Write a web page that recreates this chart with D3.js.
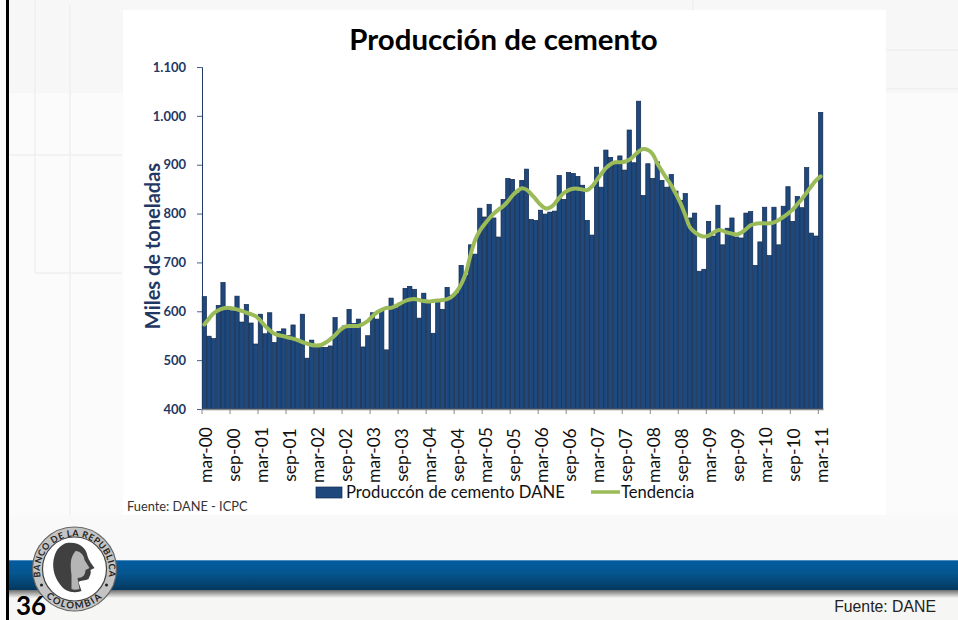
<!DOCTYPE html>
<html>
<head>
<meta charset="utf-8">
<script src="https://cdn.jsdelivr.net/npm/d3@7/dist/d3.min.js"></script>
<style>
html,body{margin:0;padding:0;background:#fbfbfb;overflow:hidden}
svg{display:block}
text{font-family:Lato,"Open Sans",sans-serif}
</style>
</head>
<body>
<svg id="c" width="958" height="620"></svg>
<script>
const monthNames = ["mar","abr","may","jun","jul","ago","sep","oct","nov","dic","ene","feb"];
const produccion = [
630,549,544,612,659,610,601,631,578,614,576,533,
594,554,597,536,559,564,550,572,538,594,504,541,
527,526,526,529,587,561,570,604,575,584,527,550,
597,584,602,521,627,607,617,647,651,645,586,637,
620,555,622,604,649,633,637,694,674,736,717,811,
793,819,791,752,829,872,870,842,868,891,788,786,
807,799,803,805,878,829,884,882,876,858,786,756,
895,854,930,915,902,918,889,971,904,1030,837,902,
872,906,868,854,880,846,827,841,791,801,682,686,
784,754,817,736,770,791,752,750,801,804,694,742,
813,714,813,736,815,855,784,835,812,894,760,754,
1007];
const tendencia = [
573,585,596,602,606,607,606,604,601,597,594,590,
581,570,561,554,551,549,546,544,541,537,534,531,
530,531,536,543,551,561,568,570,570,570,574,580,
590,598,603,607,607,611,616,621,624,625,623,621,
620,621,622,623,625,630,640,655,678,715,746,765,
778,790,800,808,815,825,837,846,852,849,840,829,
818,811,812,820,832,842,848,851,851,849,848,855,
868,881,893,901,905,905,906,910,918,927,932,930,
922,903,887,872,858,840,821,797,772,762,756,753,
755,761,766,765,761,759,757,761,768,776,779,780,
780,780,782,787,793,800,808,819,830,843,856,868,
876];
const yTicks = [400,500,600,700,800,900,1000,1100];
const xTickLabels = ["mar-00","sep-00","mar-01","sep-01","mar-02","sep-02","mar-03","sep-03","mar-04","sep-04","mar-05","sep-05","mar-06","sep-06","mar-07","sep-07","mar-08","sep-08","mar-09","sep-09","mar-10","sep-10","mar-11"];
const months = produccion.map((_,i)=>{
  const m = monthNames[i%12];
  const yr = 2000 + Math.floor((i+2)/12);
  return m+"-"+String(yr%100).padStart(2,"0");
});

const navy="#1F3864", bar="#1F497D", green="#9BBB59";
const svg=d3.select("#c");

// slide background
const bg=svg.append("g");
bg.append("rect").attr("width",958).attr("height",620).attr("fill","#fbfbfb");
bg.append("rect").attr("x",8).attr("width",950).attr("height",93).attr("fill","#f7f7f7");
[[35,0,35,273],[70,5,70,620],[693,0,693,10],[35,273,122,273],[8,155,122,155],[886,50,958,50],[886,89,958,89]].forEach(l=>{
  bg.append("line").attr("x1",l[0]).attr("y1",l[1]).attr("x2",l[2]).attr("y2",l[3]).attr("stroke","#efefef").attr("stroke-width",1.5);
});
bg.append("rect").attr("x",8).attr("y",515).attr("width",950).attr("height",45).attr("fill","#f9f9f9");
bg.append("rect").attr("x",8).attr("y",590).attr("width",950).attr("height",30).attr("fill","#f6f6f4");
const defs=svg.append("defs");
const g1=defs.append("linearGradient").attr("id","band").attr("x1",0).attr("y1",0).attr("x2",0).attr("y2",1);
g1.append("stop").attr("offset","0").attr("stop-color","#7fb0d6");
g1.append("stop").attr("offset","0.04").attr("stop-color","#045c9e");
g1.append("stop").attr("offset","0.45").attr("stop-color","#05558f");
g1.append("stop").attr("offset","1").attr("stop-color","#03385f");
const g2=defs.append("linearGradient").attr("id","shade").attr("x1",0).attr("y1",0).attr("x2",0).attr("y2",1);
g2.append("stop").attr("offset","0").attr("stop-color","#6e6e6e");
g2.append("stop").attr("offset","1").attr("stop-color","#f6f6f4");
bg.append("rect").attr("x",8).attr("y",560).attr("width",950).attr("height",30).attr("fill","url(#band)");
bg.append("rect").attr("x",8).attr("y",590).attr("width",950).attr("height",8).attr("fill","url(#shade)");
bg.append("rect").attr("x",6).attr("y",0).attr("width",3).attr("height",620).attr("fill","#000");
bg.append("rect").attr("x",123).attr("y",10).attr("width",763).attr("height",505).attr("fill","#fff");

// scales
const x=d3.scaleBand().domain(months).range([202,823]).paddingInner(0).paddingOuter(0);
const y=d3.scaleLinear().domain([400,1100]).range([409,67]);

// bars
svg.append("g").selectAll("rect").data(produccion).join("rect")
  .attr("x",(d,i)=>x(months[i])+0.2)
  .attr("y",d=>y(d))
  .attr("width",x.bandwidth()-0.4)
  .attr("height",d=>y(400)-y(d))
  .attr("fill",bar).attr("stroke","#10294d").attr("stroke-width",0.7);

// y axis
const yAxis=svg.append("g").attr("transform","translate(202,0)")
  .call(d3.axisLeft(y).tickValues(yTicks).tickSize(5).tickPadding(11)
    .tickFormat(d=>d3.format(",")(d).replace(",",".")));
yAxis.selectAll("text").attr("font-size",13).attr("font-weight",700).attr("fill",navy).style("font-family","Lato");
yAxis.selectAll("line").attr("stroke","#4a5f85");
yAxis.select(".domain").attr("stroke",navy).attr("stroke-width",1);

// x axis
const xAxis=svg.append("g").attr("transform","translate(0,409)")
  .call(d3.axisBottom(x).tickValues(months.filter((m,i)=>i%6===0)).tickSize(5).tickSizeOuter(0)
    .tickFormat((d,i)=>xTickLabels[i]));
xAxis.select(".domain").attr("stroke","#888").attr("stroke-width",1.5);
xAxis.selectAll("line").attr("stroke","#888").attr("transform",`translate(${-x.bandwidth()/2},0)`);
xAxis.selectAll("text")
  .attr("transform","rotate(-90)")
  .attr("x",-46).attr("y",1.5).attr("dy","0.35em")
  .attr("text-anchor","middle")
  .attr("font-size",17.5).attr("fill","#111").style("font-family","Lato");

// trend
const line=d3.line().x((d,i)=>x(months[i])+x.bandwidth()/2).y(d=>y(d)).curve(d3.curveCatmullRom);
svg.append("path").datum(tendencia).attr("d",line).attr("fill","none")
  .attr("stroke",green).attr("stroke-width",4).attr("stroke-linecap","round");

// titles
svg.append("text").attr("x",503.5).attr("y",50).attr("text-anchor","middle")
  .attr("font-size",29.4).attr("font-weight",700).attr("fill","#000").text("Producción de cemento");
svg.append("text").attr("transform","translate(160,246) rotate(-90)").attr("text-anchor","middle")
  .attr("font-size",20).attr("font-weight",700).attr("fill",navy).text("Miles de toneladas");

// legend
svg.append("rect").attr("x",316).attr("y",487).attr("width",26).attr("height",11).attr("fill",bar).attr("stroke","#10294d").attr("stroke-width",0.7);
svg.append("text").attr("x",346).attr("y",498).attr("font-size",16.7).attr("fill","#111").text("Produccón de cemento DANE");
svg.append("line").attr("x1",591).attr("x2",620).attr("y1",492).attr("y2",492).attr("stroke",green).attr("stroke-width",3.5);
svg.append("text").attr("x",621).attr("y",498).attr("font-size",16.6).attr("fill","#111").text("Tendencia");
svg.append("text").attr("x",127).attr("y",511).attr("font-size",12.8).attr("fill","#333").text("Fuente: DANE - ICPC");

// seal
const seal=svg.append("g").attr("transform","translate(74.5,569)");
seal.append("circle").attr("r",42).attr("fill","#c4c4c4").attr("stroke","#666").attr("stroke-width",1.2);
seal.append("circle").attr("r",32).attr("fill","#fff").attr("stroke","#444").attr("stroke-width",1.2);
seal.append("path").attr("d","M-8,-26 C4,-28 12,-21 13,-13 C14,-9 18,-4 20,-1 L16,1 C17,5 15,7 14,10 C11,12 6,11 4,13 L7,22 C-2,25 -10,22 -14,16 C-21,8 -23,-4 -20,-13 C-18,-20 -14,-24 -8,-26 Z").attr("fill","#404040");
seal.append("path").attr("d","M1,-18 C6,-18 10,-13 10,-9 L15,-1 L11,1 C11,6 8,9 3,9 L5,20 C2,21 -1,21 -3,20 L-3,6 C-4,-3 -5,-11 1,-18 Z").attr("fill","#b5b5b5");
defs.append("path").attr("id","arcTop").attr("d","M-33,12 A34.5,34.5 0 1 1 33,12");
defs.append("path").attr("id","arcBot").attr("d","M-31,25 A40,40 0 0 0 31,25");
seal.append("text").attr("font-size",9).attr("font-weight",700).attr("font-family","Liberation Serif").attr("fill","#222").attr("letter-spacing",0.5)
  .append("textPath").attr("href","#arcTop").attr("startOffset","50%").attr("text-anchor","middle").text("BANCO DE LA REPUBLICA");
seal.append("text").attr("font-size",9.5).attr("font-weight",700).attr("font-family","Liberation Serif").attr("fill","#222").attr("letter-spacing",1.6)
  .append("textPath").attr("href","#arcBot").attr("startOffset","50%").attr("text-anchor","middle").text("COLOMBIA");
seal.append("circle").attr("cx",-33).attr("cy",16).attr("r",1.5).attr("fill","#222");
seal.append("circle").attr("cx",32).attr("cy",16).attr("r",1.5).attr("fill","#222");

// slide footer
svg.append("text").attr("x",16).attr("y",614.5).attr("font-size",26).attr("font-weight",700).attr("fill","#000").text("36");
svg.append("text").attr("x",936).attr("y",612).attr("text-anchor","end").attr("font-size",15.8).attr("fill","#222").style("font-family","Liberation Sans").text("Fuente: DANE");
</script>
</body>
</html>
